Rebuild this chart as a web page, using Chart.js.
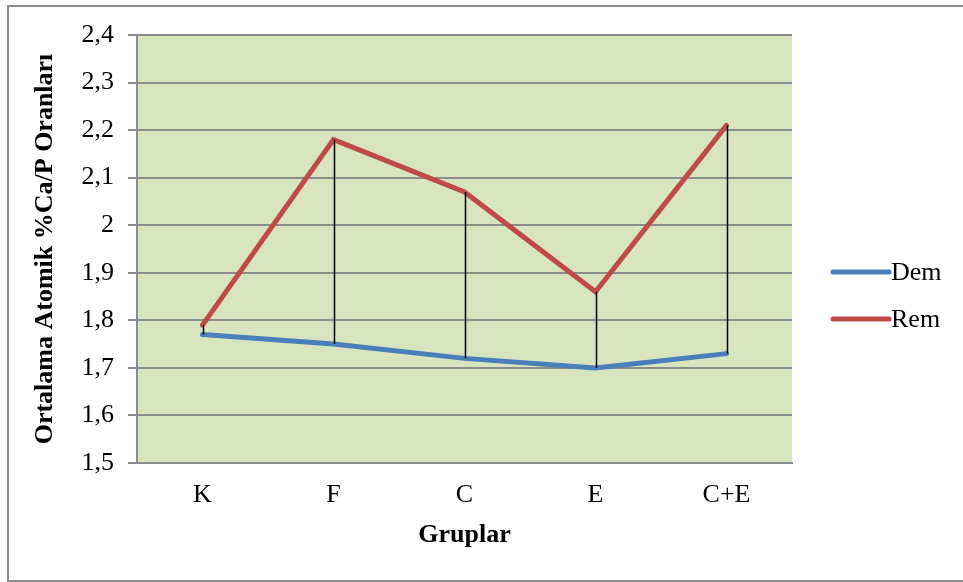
<!DOCTYPE html>
<html>
<head>
<meta charset="utf-8">
<script src="https://cdn.jsdelivr.net/npm/chart.js@4.4.0/dist/chart.umd.min.js"></script>
<style>
  html, body { margin: 0; padding: 0; background: #fff; }
  #wrap { width: 963px; height: 582px; }
</style>
</head>
<body>
<div id="wrap"><canvas id="caChart"></canvas></div>
<script>
const groups = ['K', 'F', 'C', 'E', 'C+E'];
const demValues = [1.77, 1.75, 1.72, 1.70, 1.73];
const remValues = [1.79, 2.18, 2.07, 1.86, 2.21];
const yTickLabels = ['1,5', '1,6', '1,7', '1,8', '1,9', '2', '2,1', '2,2', '2,3', '2,4'];

const serif = '"Liberation Serif", "Times New Roman", serif';
const fs = 26;

// arka plan, çerçeve, yüksek-düşük çizgileri ve açıklama
const decor = {
    id: 'decor',
    beforeDraw(chart) {
        const { ctx, chartArea: a } = chart;
        ctx.save();
        ctx.fillStyle = '#fff';
        ctx.fillRect(0, 0, chart.width, chart.height);
        ctx.strokeStyle = '#8c8c8c';
        ctx.lineWidth = 2;
        ctx.strokeRect(8, 6, chart.width + 10, chart.height - 7);
        ctx.fillStyle = '#d7e4bd';
        ctx.fillRect(a.left, a.top, a.right - a.left, a.bottom - a.top);
        ctx.restore();
    },
    afterDatasetsDraw(chart) {
        const { ctx } = chart;
        const x = chart.scales.x, y = chart.scales.y;
        ctx.save();
        ctx.strokeStyle = '#000';
        ctx.lineWidth = 1.5;
        groups.forEach((g, i) => {
            const px = Math.round(x.getPixelForValue(i)) + 0.5;
            ctx.beginPath();
            ctx.moveTo(px, y.getPixelForValue(remValues[i]));
            ctx.lineTo(px, y.getPixelForValue(demValues[i]));
            ctx.stroke();
        });
        // açıklama
        ctx.font = fs + 'px ' + serif;
        ctx.textBaseline = 'middle';
        chart.data.datasets.forEach((ds, i) => {
            const ly = 272 + i * 47;
            ctx.strokeStyle = ds.borderColor;
            ctx.lineWidth = 5;
            ctx.lineCap = 'round';
            ctx.beginPath();
            ctx.moveTo(833, ly);
            ctx.lineTo(889, ly);
            ctx.stroke();
            ctx.fillStyle = '#000';
            ctx.fillText(ds.label, 891, ly + 1);
        });
        ctx.restore();
    }
};

new Chart(document.getElementById('caChart'), {
    type: 'line',
    data: {
        labels: groups,
        datasets: [
            { label: 'Dem', data: demValues, borderColor: '#4a7ebb', borderWidth: 5, pointRadius: 0, tension: 0, borderCapStyle: 'round' },
            { label: 'Rem', data: remValues, borderColor: '#be4b48', borderWidth: 5, pointRadius: 0, tension: 0, borderCapStyle: 'round' }
        ]
    },
    options: {
        responsive: true,
        maintainAspectRatio: false,
        animation: false,
        layout: { padding: { top: 35, right: 171, bottom: 0, left: 0 } },
        plugins: { legend: { display: false }, tooltip: { enabled: false } },
        scales: {
            x: {
                offset: true,
                afterFit(s) { s.height = 119; },
                grid: { display: false, drawTicks: false },
                border: { color: '#8c8c8c', width: 2 },
                ticks: { color: '#000', font: { family: serif, size: fs }, padding: 17 },
                title: { display: true, text: 'Gruplar', color: '#000', font: { family: serif, size: fs, weight: 'bold' }, padding: { top: 0, bottom: 31 } }
            },
            y: {
                min: 1.5,
                max: 2.4,
                afterFit(s) { s.width = 137; },
                afterBuildTicks(s) {
                    s.ticks = yTickLabels.map((t, i) => ({ value: Math.round((1.5 + i * 0.1) * 10) / 10 }));
                },
                grid: { color: '#8c8c8c', lineWidth: 2, tickLength: 9, tickColor: '#8c8c8c' },
                border: { color: '#8c8c8c', width: 2 },
                ticks: {
                    color: '#000',
                    font: { family: serif, size: fs },
                    padding: 14,
                    callback: (v, i) => yTickLabels[i]
                },
                title: { display: true, text: 'Ortalama Atomik %Ca/P Oranları', color: '#000', font: { family: serif, size: fs, weight: 'bold' }, padding: { top: 30, bottom: 0 } }
            }
        }
    },
    plugins: [decor]
});
</script>
</body>
</html>
